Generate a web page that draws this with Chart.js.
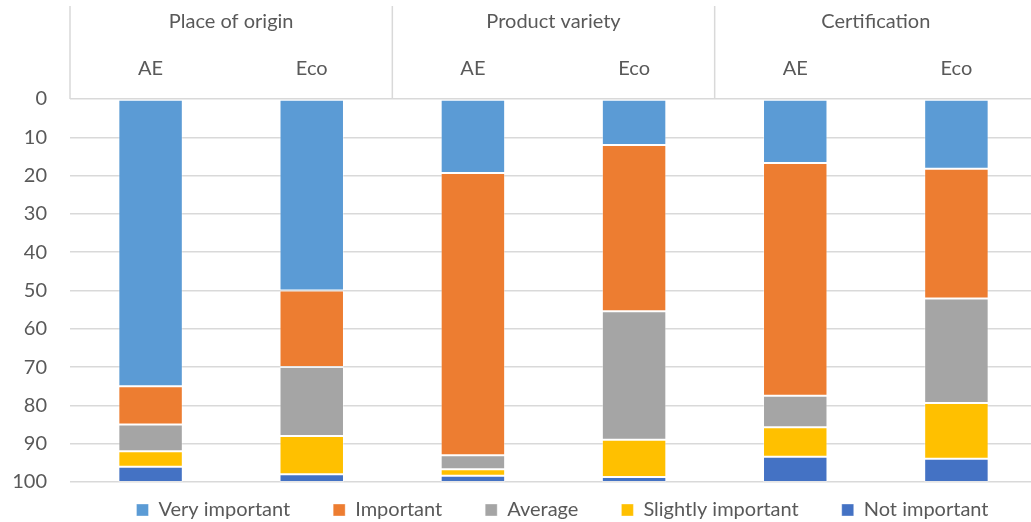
<!DOCTYPE html>
<html><head><meta charset="utf-8">
<script src="https://cdn.jsdelivr.net/npm/chart.js@4.4.1/dist/chart.umd.min.js"></script>
<style>html,body{margin:0;padding:0;overflow:hidden;background:#fff}#wrap{width:1037px;height:522px;position:relative}</style>
</head><body><div id="wrap"><canvas id="c"></canvas></div>
<script>
const groups = ['Place of origin', 'Product variety', 'Certification'];
const categories = ['AE', 'Eco', 'AE', 'Eco', 'AE', 'Eco'];
const seriesNames = ['Very important', 'Important', 'Average', 'Slightly important', 'Not important'];
const veryImportant = [75, 50, 19.3, 12, 16.7, 18.2];
const important = [10, 20, 73.7, 43.4, 60.8, 33.9];
const average = [7, 18, 3.7, 33.6, 8.2, 27.3];
const slightlyImportant = [4, 10, 1.7, 9.7, 7.7, 14.5];
const notImportant = [4, 2, 1.6, 1.3, 6.6, 6.1];
const yMin = 0, yMax = 100, yStep = 10;

const colors = ['#5B9BD5', '#ED7D31', '#A5A5A5', '#FFC000', '#4472C4'];
const seriesValues = [veryImportant, important, average, slightlyImportant, notImportant];
const TXT = '#595959';
const FONT = 'Lato';
const FS = 20;
const LEG_PAD = 43;

Chart.defaults.font.family = FONT;
Chart.defaults.font.size = FS;
Chart.defaults.color = TXT;

const headerPlugin = {
  id: 'header',
  afterDraw(chart) {
    const xs = chart.scales.x, ctx = chart.ctx, top = chart.chartArea.top;
    const catW = (xs.right - xs.left) / categories.length;
    ctx.save();
    ctx.strokeStyle = '#d9d9d9';
    ctx.lineWidth = 1.5;
    ctx.fillStyle = TXT;
    ctx.font = FS + 'px ' + FONT;
    ctx.textAlign = 'center';
    ctx.textBaseline = 'middle';
    groups.forEach((g, i) => {
      const x0 = xs.getPixelForValue(i * 2) - catW / 2;
      ctx.beginPath();
      ctx.moveTo(x0, 6);
      ctx.lineTo(x0, top);
      ctx.stroke();
      const xm = (xs.getPixelForValue(i * 2) + xs.getPixelForValue(i * 2 + 1)) / 2;
      ctx.fillText(g, xm, 22);
    });
    ctx.restore();
  }
};

const legendPlugin = {
  id: 'legendPos',
  beforeLayout(chart) {
    const lg = chart.legend;
    if (lg && !lg._patched) {
      const f = lg.fit;
      lg.fit = function () { this.maxWidth = 3000; f.call(this); this.height = 40; this.width = 1037; };
      lg._patched = true;
    }
  },
  afterLayout(chart) {
    const lg = chart.legend;
    lg.top = 510 - FS / 2 - LEG_PAD; lg.bottom = 522; lg.left = 0; lg.right = 1125;
  }
};

new Chart(document.getElementById('c'), {
  type: 'bar',
  data: {
    labels: categories,
    datasets: seriesNames.map((n, i) => ({
      label: n,
      data: seriesValues[i],
      backgroundColor: colors[i],
      borderColor: 'rgba(255,255,255,0.35)',
      borderWidth: 1,
      borderSkipped: false,
      barPercentage: 0.4,
      categoryPercentage: 1
    }))
  },
  options: {
    responsive: true,
    maintainAspectRatio: false,
    animation: false,
    layout: { padding: 0 },
    plugins: {
      tooltip: { enabled: false },
      legend: {
        position: 'bottom',
        labels: { boxWidth: 12, boxHeight: 12, padding: LEG_PAD, color: TXT, font: { size: FS, family: FONT } }
      }
    },
    scales: {
      x: {
        position: 'top',
        stacked: true,
        grid: { display: false, drawTicks: false },
        border: { display: false },
        ticks: { color: TXT, padding: 18, font: { size: FS, family: FONT } },
        afterFit(s) { s.height = 99; }
      },
      y: {
        stacked: true,
        reverse: true,
        min: yMin, max: yMax,
        grid: { color: '#d9d9d9', lineWidth: 1.5, drawTicks: false },
        border: { display: false },
        ticks: { stepSize: yStep, color: TXT, padding: 23, font: { size: FS, family: FONT } },
        afterFit(s) { s.width = 70; }
      }
    }
  },
  plugins: [headerPlugin, legendPlugin]
});
</script></body></html>
